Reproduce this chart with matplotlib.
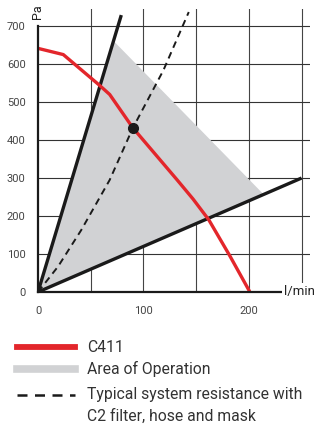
import matplotlib.pyplot as plt
from matplotlib.lines import Line2D
from matplotlib.patches import Polygon

plt.rcParams['font.family'] = ['Roboto', 'DejaVu Sans']

# 数据
c411_flow = [2, 24, 58, 68, 90, 132, 147, 162, 182, 200]
c411_pa = [640, 625, 545, 520, 432, 295, 245, 190, 95, 5]

sys_flow = [0, 19, 41, 68, 90, 119, 143]
sys_pa = [0, 67, 163, 295, 432, 584, 737]

upper_limit = [(0, 0), (79, 729)]   # steile Grenzlinie
lower_limit = [(0, 0), (250, 300)]  # flache Grenzlinie
area_pts = [(0, 0), (72, 660), (214, 257)]

op_point = (90, 432)

x_ticks = [0, 100, 200]
x_grid = [50, 100, 150, 200, 250]
y_ticks = [0, 100, 200, 300, 400, 500, 600, 700]

red = '#e3262b'
grey = '#d1d2d4'

fig = plt.figure(figsize=(3.16, 4.25), dpi=100)
ax = fig.add_axes([38 / 316, 133 / 425, 272 / 316, 283 / 425])
ax.set_xlim(0, 258)
ax.set_ylim(0, 745)

# Gitter
for x in x_grid:
    ax.axvline(x, color='#444444', lw=0.8, zorder=1)
for y in y_ticks[1:]:
    ax.axhline(y, color='#333333', lw=0.8, zorder=1)

ax.add_patch(Polygon(area_pts, closed=True, facecolor=grey, edgecolor='none', zorder=2))

ax.plot(*zip(*upper_limit), color='#1a1a1a', lw=2.4, zorder=3, solid_capstyle='butt')
ax.plot(*zip(*lower_limit), color='#1a1a1a', lw=2.4, zorder=3, solid_capstyle='butt')
ax.plot(sys_flow, sys_pa, color='#1a1a1a', lw=1.4, ls=(0, (3.5, 2.5)), zorder=3)
ax.plot(c411_flow, c411_pa, color=red, lw=2.4, zorder=4, solid_joinstyle='round')
ax.plot(*op_point, 'o', color='#1a1a1a', ms=7, zorder=5)

for s in ['top', 'right']:
    ax.spines[s].set_visible(False)
ax.spines['left'].set_bounds(0, 700)
ax.spines['bottom'].set_bounds(0, 231)
for s in ['left', 'bottom']:
    ax.spines[s].set_linewidth(1.6)
    ax.spines[s].set_color('#1a1a1a')
    ax.spines[s].set_zorder(6)

ax.set_xticks(x_ticks)
ax.set_yticks(y_ticks)
ax.tick_params(length=0, labelsize=8, labelcolor='#444444')
ax.tick_params(axis='y', pad=9)
ax.tick_params(axis='x', pad=10)

ax.text(0, 718, 'Pa', rotation=90, ha='center', va='bottom', fontsize=9, color='#222222')
ax.text(233, 0, 'l/min', ha='left', va='center', fontsize=9.5, color='#222222',
        bbox=dict(facecolor='white', edgecolor='none', pad=1.5), zorder=7, clip_on=False)

# Legende
def fy(p):
    return 1 - p / 425

fig.add_artist(Line2D([17 / 316, 75 / 316], [fy(347), fy(347)], color=red, lw=4.2))
fig.add_artist(Line2D([17 / 316, 75 / 316], [fy(368.5), fy(368.5)], color=grey, lw=5.5))
fig.add_artist(Line2D([17 / 316, 75 / 316], [fy(395), fy(395)], color='#1a1a1a', lw=1.8,
                      ls=(0, (4, 3))))
tkw = dict(fontsize=11.3, color='#333333', ha='left', va='center')
fig.text(87 / 316, fy(347), 'C411', **tkw)
fig.text(87 / 316, fy(369), 'Area of Operation', **tkw)
fig.text(87 / 316, fy(395), 'Typical system resistance with', **tkw)
fig.text(87 / 316, fy(416.5), 'C2 filter, hose and mask', **tkw)

fig.savefig('out.png', dpi=100)
